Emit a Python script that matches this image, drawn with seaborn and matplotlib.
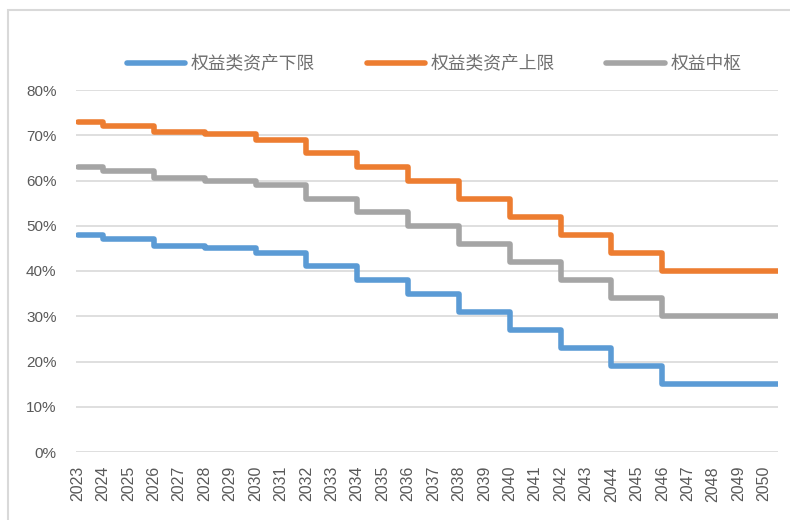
import matplotlib
matplotlib.use("Agg")
import matplotlib.pyplot as plt
import seaborn as sns
import pandas as pd
from matplotlib.patches import Rectangle
from matplotlib.lines import Line2D

# ---- data ----
years = list(range(2023, 2051))
lower = [48, 47, 47, 45.6, 45.6, 45, 45, 44, 44, 41, 41, 38, 38, 35, 35,
         31, 31, 27, 27, 23, 23, 19, 19, 15, 15, 15, 15, 15]
upper = [73, 72, 72, 70.8, 70.8, 70.3, 70.3, 69, 69, 66, 66, 63, 63, 60, 60,
         56, 56, 52, 52, 48, 48, 44, 44, 40, 40, 40, 40, 40]
center = [63, 62, 62, 60.6, 60.6, 60, 60, 59, 59, 56, 56, 53, 53, 50, 50,
          46, 46, 42, 42, 38, 38, 34, 34, 30, 30, 30, 30, 30]
series_names = ["权益类资产下限", "权益类资产上限", "权益中枢"]
colors = ["#5B9BD5", "#ED7D31", "#A5A5A5"]
yticks = [0, 10, 20, 30, 40, 50, 60, 70, 80]
ytick_labels = [f"{v}%" for v in yticks]

X_MIN, X_MAX = 2022.94, 2050.55

rows = []
for name, vals in zip(series_names, [lower, upper, center]):
    xs = years + [X_MAX]
    ys = vals + [vals[-1]]
    for x, y in zip(xs, ys):
        rows.append({"year": x, "value": y / 100.0, "series": name})
df = pd.DataFrame(rows)

sns.set_theme(style="white")
plt.rcParams["font.family"] = ["Liberation Sans", "Noto Sans CJK SC", "DejaVu Sans"]

fig = plt.figure(figsize=(7.9, 5.2), dpi=100)
ax = fig.add_axes([76 / 790, 1 - 452 / 520, (778 - 76) / 790, (452 - 90) / 520])

sns.lineplot(data=df, x="year", y="value", hue="series", hue_order=series_names,
             palette=colors, ax=ax, linewidth=4.0, drawstyle="steps-post",
             solid_capstyle="round", solid_joinstyle="round", legend=False)

ax.set_xlim(X_MIN, X_MAX)
ax.set_ylim(0, 0.8)
ax.set_yticks([v / 100 for v in yticks])
ax.set_yticklabels(ytick_labels)
ax.set_xticks(years)
ax.set_xticklabels([str(y) for y in years], rotation=90)
ax.set_xlabel("")
ax.set_ylabel("")
ax.grid(axis="y", color="#D9D9D9", linewidth=1.2)
ax.grid(axis="x", visible=False)
ax.set_axisbelow(True)
for s in ax.spines.values():
    s.set_visible(False)
ax.tick_params(axis="y", length=0, pad=14, labelsize=11, labelcolor="#595959")
ax.tick_params(axis="x", length=0, pad=10, labelsize=11.5, labelcolor="#595959")

# legend
handles = [Line2D([0], [0], color=c, linewidth=4.0, solid_capstyle="round") for c in colors]
leg = fig.legend(handles, series_names, loc="center", bbox_to_anchor=(434 / 790, 1 - 64 / 520),
                 ncol=3, frameon=False, handlelength=3.3, handletextpad=0.3,
                 columnspacing=2.9, prop={"family": ["Noto Sans CJK SC"], "size": 12.8})
for t in leg.get_texts():
    t.set_color("#707070")

# chart border
fig.patches.append(Rectangle((8 / 790, -0.2), 1.2, 1.2 - 10 / 520, transform=fig.transFigure,
                             fill=False, edgecolor="#D9D9D9", linewidth=1.5))

fig.savefig("out.png", dpi=100)
